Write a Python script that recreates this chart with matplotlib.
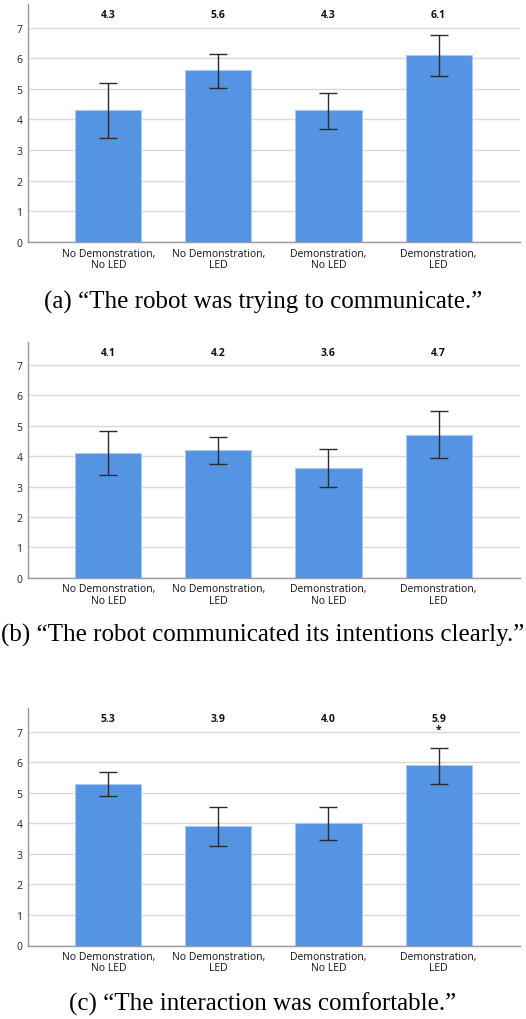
import matplotlib
matplotlib.use("Agg")
import matplotlib.pyplot as plt
import numpy as np

categories = ["No Demonstration,\nNo LED", "No Demonstration,\nLED",
              "Demonstration,\nNo LED", "Demonstration,\nLED"]

means_a = [4.3, 5.6, 4.3, 6.1]
lo_a = [3.40, 5.03, 3.69, 5.43]
hi_a = [5.18, 6.15, 4.88, 6.75]

means_b = [4.1, 4.2, 3.6, 4.7]
lo_b = [3.38, 3.75, 2.97, 3.93]
hi_b = [4.82, 4.64, 4.25, 5.48]

means_c = [5.3, 3.9, 4.0, 5.9]
lo_c = [4.90, 3.26, 3.46, 5.30]
hi_c = [5.69, 4.54, 4.54, 6.48]

value_labels_a = ["4.3", "5.6", "4.3", "6.1"]
value_labels_b = ["4.1", "4.2", "3.6", "4.7"]
value_labels_c = ["5.3", "3.9", "4.0", "5.9"]
stars_c = ["", "", "", "*"]

captions = ["(a) \u201cThe robot was trying to communicate.\u201d",
            "(b) \u201cThe robot communicated its intentions clearly.\u201d",
            "(c) \u201cThe interaction was comfortable.\u201d"]

yticks = [0, 1, 2, 3, 4, 5, 6, 7]

BAR = "#5594E2"
EDGE = "#A9C9F2"
GRID = "#D9D9D9"
SPINE = "#9A9A9A"
TICKFONT = "Open Sans"

fig = plt.figure(figsize=(5.26, 10.20), dpi=100)

panels = [
    (means_a, lo_a, hi_a, value_labels_a, None, 243.0, 5.0, 302.0),
    (means_b, lo_b, hi_b, value_labels_b, None, 578.7, 342.7, 635.0),
    (means_c, lo_c, hi_c, value_labels_c, stars_c, 946.5, 709.3, 1004.0),
]

H = 1020.0
W = 526.0
for i, (m, lo, hi, vl, st, y0, ytop, capy) in enumerate(panels):
    ax = fig.add_axes([28 / W, 1 - y0 / H, 492 / W, (y0 - ytop) / H])
    x = np.arange(len(categories))
    m = np.array(m)
    err = np.vstack([m - np.array(lo), np.array(hi) - m])
    ax.bar(x, m, width=0.6, color=BAR, edgecolor=EDGE, linewidth=0.8, zorder=2)
    ax.errorbar(x, m, yerr=err, fmt="none", ecolor="#2b2b2b", elinewidth=1.0,
                capsize=6.5, capthick=1.0, zorder=3)
    ax.set_xlim(-0.73, 3.74)
    ax.set_ylim(0, 7.77)
    ax.set_yticks(yticks)
    ax.set_yticklabels([str(t) for t in yticks], fontfamily=TICKFONT, fontsize=7.5, color="#222222")
    ax.set_xticks(x)
    ax.set_xticklabels(categories, fontfamily=TICKFONT, fontsize=7.5, color="#111111",
                       linespacing=1.05)
    ax.tick_params(axis="both", length=0)
    ax.tick_params(axis="y", pad=4)
    ax.tick_params(axis="x", pad=4)
    ax.grid(axis="y", color=GRID, linewidth=1.0, zorder=0)
    ax.set_axisbelow(True)
    for s in ["top", "right"]:
        ax.spines[s].set_visible(False)
    for s in ["left", "bottom"]:
        ax.spines[s].set_color(SPINE)
        ax.spines[s].set_linewidth(1.0)
    for xi, lab in zip(x, vl):
        ax.text(xi, 7.42, lab, ha="center", va="center", fontfamily=TICKFONT,
                fontsize=7.5, fontweight="bold", color="#111111")
    if st is not None:
        for xi, s in zip(x, st):
            if s:
                ax.text(xi, 7.08, s, ha="center", va="center", fontfamily=TICKFONT,
                        fontsize=7.5, fontweight="bold", color="#111111")
    fig.text(0.5, 1 - capy / H, captions[i], ha="center", va="center",
             fontfamily="Liberation Serif", fontsize=18, color="#000000")

fig.savefig("out.png", dpi=100)
